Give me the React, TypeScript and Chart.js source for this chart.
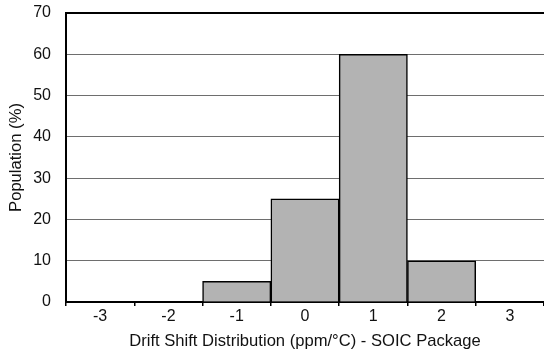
import React, { useEffect, useRef } from "react";
import { Chart, registerables } from "chart.js";

Chart.register(...registerables);

const categories = ["-3", "-2", "-1", "0", "1", "2", "3"];
const population = [0, 0, 5, 25, 60, 10, 0];
const yTicks = [0, 10, 20, 30, 40, 50, 60, 70];

const FONT = "'Liberation Sans', Arial, sans-serif";

export default function App() {
  const ref = useRef<HTMLCanvasElement>(null);
  useEffect(() => {
    if (!ref.current) return;
    const chart = new Chart(ref.current, {
      type: "bar",
      data: {
        labels: categories,
        datasets: [
          {
            data: population,
            backgroundColor: "#b3b3b3",
            borderColor: "#000000",
            borderWidth: 1.5,
            barPercentage: 1,
            categoryPercentage: 1,
          },
        ],
      },
      options: {
        responsive: false,
        animation: false,
        layout: { padding: { left: 0, right: 0, top: 13, bottom: 0 } },
        plugins: { legend: { display: false }, tooltip: { enabled: false } },
        scales: {
          x: {
            offset: true,
            grid: {
              offset: true,
              drawOnChartArea: false,
              drawTicks: true,
              tickLength: 4,
              color: "#000",
              lineWidth: 1.5,
            },
            border: { color: "#000", width: 2 },
            ticks: {
              color: "#111",
              font: { family: FONT, size: 16 },
              padding: 1,
            },
            title: {
              display: true,
              text: "Drift Shift Distribution (ppm/°C) - SOIC Package",
              color: "#111",
              font: { family: FONT, size: 16.6 },
              padding: { top: 10, bottom: 5 },
            },
            afterFit: (axis: any) => {
              axis.height = 54;
              axis.paddingLeft = 0;
              axis.paddingRight = 0;
            },
          },
          y: {
            min: 0,
            max: 70,
            afterBuildTicks: (axis: any) => {
              axis.ticks = yTicks.map((v) => ({ value: v }));
            },
            grid: {
              drawTicks: false,
              color: (ctx: any) =>
                ctx.tick && ctx.tick.value === 70 ? "#000" : "#6e6e6e",
              lineWidth: (ctx: any) =>
                ctx.tick && ctx.tick.value === 70 ? 2 : 1,
            },
            border: { color: "#000", width: 2 },
            ticks: {
              color: "#111",
              font: { family: FONT, size: 16 },
              padding: 15,
            },
            title: {
              display: true,
              text: "Population (%)",
              color: "#111",
              font: { family: FONT, size: 16.6 },
              padding: { top: 6, bottom: 0 },
            },
            afterFit: (axis: any) => {
              axis.width = 66;
              axis.paddingTop = 0;
              axis.paddingBottom = 0;
            },
          },
        },
      },
    });
    return () => chart.destroy();
  }, []);
  return (
    <div style={{ position: "fixed", left: 0, top: 0, width: 544, height: 356, background: "#fff" }}>
      <canvas ref={ref} width={544} height={356} />
    </div>
  );
}
